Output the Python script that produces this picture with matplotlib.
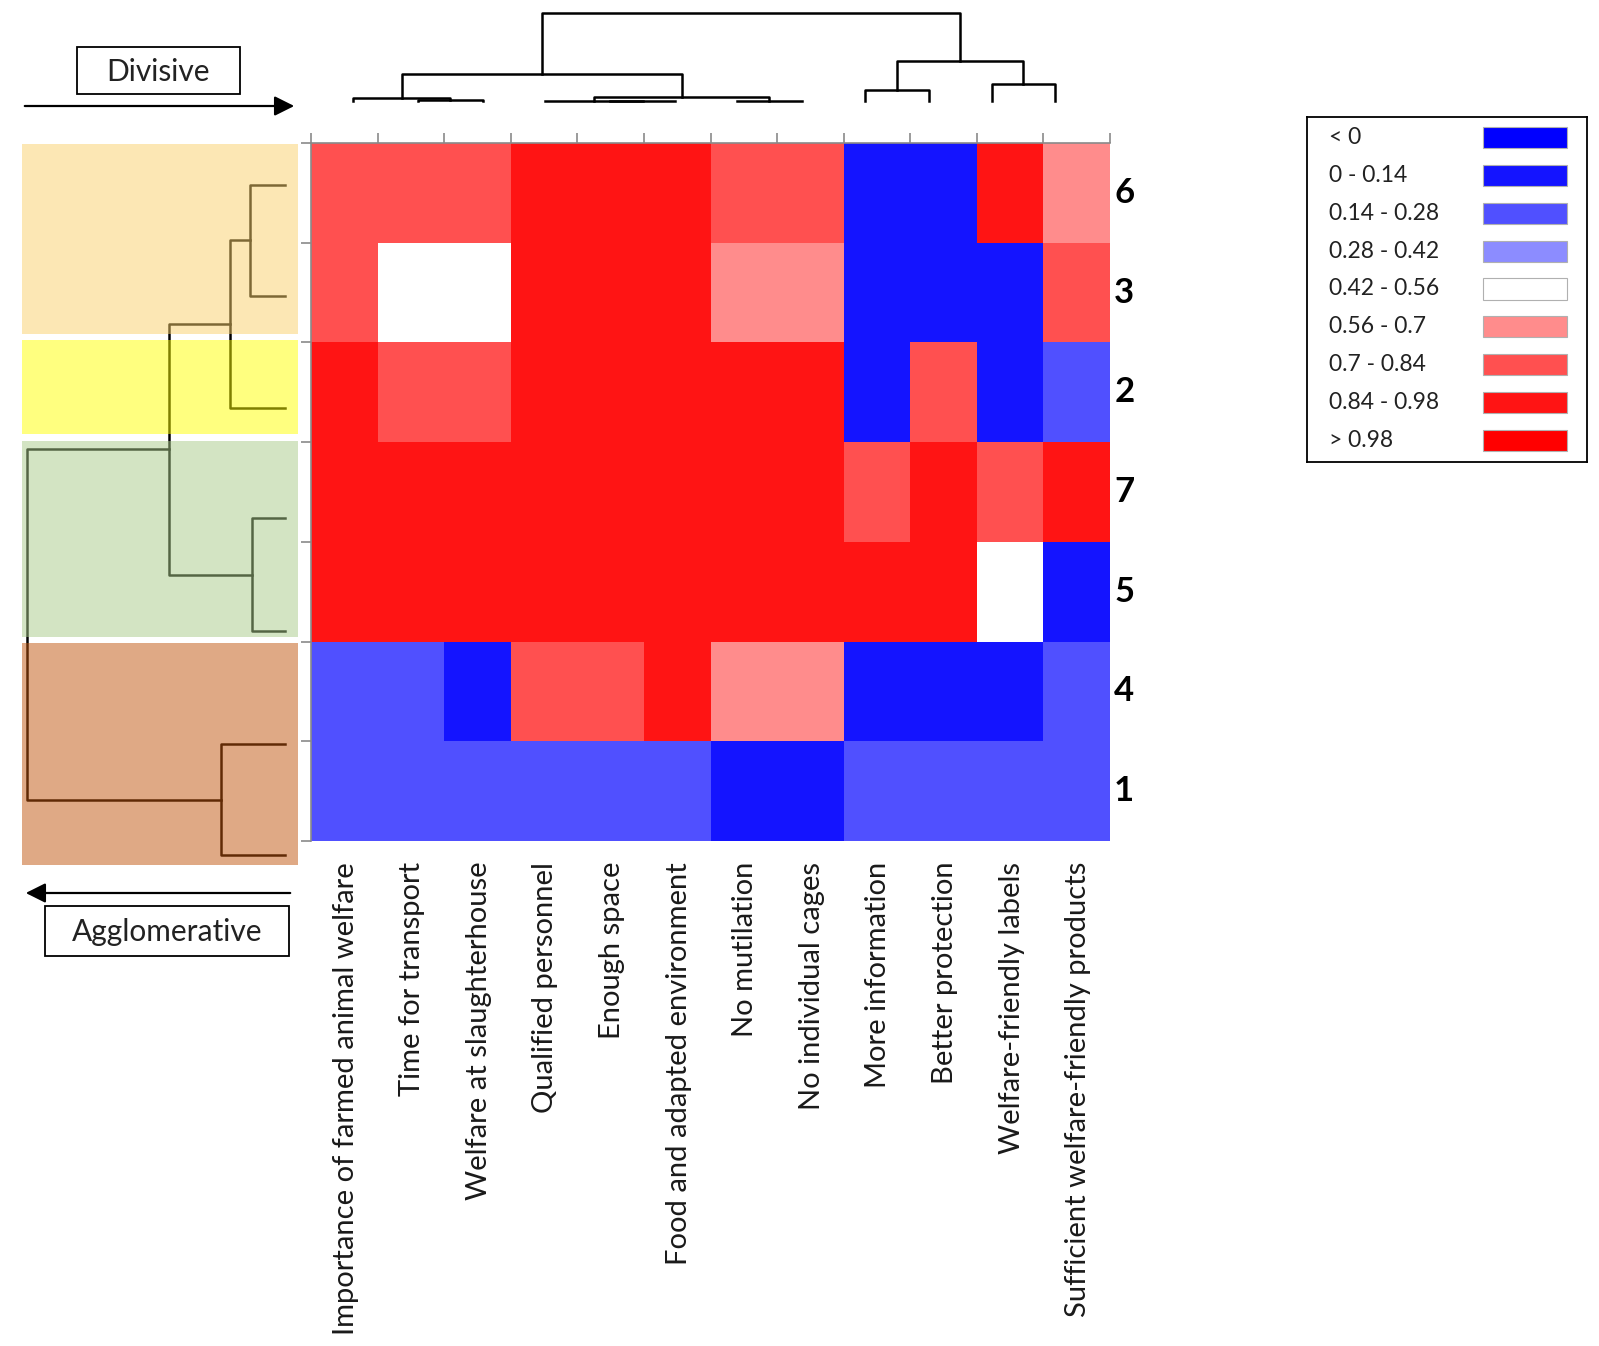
import numpy as np
import matplotlib
matplotlib.use('Agg')
import matplotlib.pyplot as plt
from matplotlib.colors import ListedColormap, BoundaryNorm
from matplotlib.patches import Rectangle, FancyArrowPatch

plt.rcParams['font.family'] = ['Lato', 'DejaVu Sans']

W, H = 1599, 1346

# --- data
statements = ['Importance of farmed animal welfare', 'Time for transport', 'Welfare at slaughterhouse',
              'Qualified personnel', 'Enough space', 'Food and adapted environment', 'No mutilation',
              'No individual cages', 'More information', 'Better protection', 'Welfare-friendly labels',
              'Sufficient welfare-friendly products']
clusters = ['6', '3', '2', '7', '5', '4', '1']

# one representative value per cell (class of the legend)
values = np.array([
    [0.77, 0.77, 0.77, 0.91, 0.91, 0.91, 0.77, 0.77, 0.07, 0.07, 0.91, 0.63],
    [0.77, 0.49, 0.49, 0.91, 0.91, 0.91, 0.63, 0.63, 0.07, 0.07, 0.07, 0.77],
    [0.91, 0.77, 0.77, 0.91, 0.91, 0.91, 0.91, 0.91, 0.07, 0.77, 0.07, 0.21],
    [0.91, 0.91, 0.91, 0.91, 0.91, 0.91, 0.91, 0.91, 0.77, 0.91, 0.77, 0.91],
    [0.91, 0.91, 0.91, 0.91, 0.91, 0.91, 0.91, 0.91, 0.91, 0.91, 0.49, 0.07],
    [0.21, 0.21, 0.07, 0.77, 0.77, 0.91, 0.63, 0.63, 0.07, 0.07, 0.07, 0.21],
    [0.21, 0.21, 0.21, 0.21, 0.21, 0.21, 0.07, 0.07, 0.21, 0.21, 0.21, 0.21],
])

class_edges = [-1, 0, 0.14, 0.28, 0.42, 0.56, 0.7, 0.84, 0.98, 1.5]
class_labels = ['< 0', '0 - 0.14', '0.14 - 0.28', '0.28 - 0.42', '0.42 - 0.56',
                '0.56 - 0.7', '0.7 - 0.84', '0.84 - 0.98', '> 0.98']
class_colors = ['#0000FF', '#1414FF', '#5050FF', '#8C8CFF', '#FFFFFF',
                '#FF8C8C', '#FF5050', '#FF1414', '#FF0000']

# column dendrogram: leaf positions (column units), merges (node a, node b, height)
col_leaf_pos = [0.63, 1.61, 2.58, 3.51, 4.49, 5.47, 6.40, 7.37, 8.32, 9.28, 10.23, 11.17]
col_merges = [(1, 2, 0.8), (0, 12, 3), (4, 5, 0.1), (3, 14, 0.3), (6, 7, 0.3), (15, 16, 4.3),
              (13, 17, 27), (8, 9, 11), (10, 11, 17.4), (19, 20, 40), (18, 21, 88)]

# row dendrogram (clusters 6,3,2,7,5,4,1)
row_leaf_pos = [184.5, 295.5, 408.3, 518.3, 631.2, 744.4, 855.0]
row_merges = [(0, 1, 35), (7, 2, 55), (3, 4, 33), (8, 9, 116), (5, 6, 64), (10, 11, 258)]

# cluster groups shown as coloured bands
band_spans = [(144, 334), (340, 434), (441, 637), (643, 865)]
band_colors = ['#FBD16B', '#FFFF01', '#A9CB89', '#C1550D']


def fig_rect(x0, y0, x1, y1):
    return [x0 / W, 1 - y1 / H, (x1 - x0) / W, (y1 - y0) / H]


def draw_dendro(ax, leaf_pos, merges, vertical=True, **kw):
    pos = list(leaf_pos)
    hgt = [0.0] * len(leaf_pos)
    for a, b, h in merges:
        xs = [pos[a], pos[a], pos[b], pos[b]]
        ys = [hgt[a], h, h, hgt[b]]
        if vertical:
            ax.plot(xs, ys, **kw)
        else:
            ax.plot(ys, xs, **kw)
        pos.append((pos[a] + pos[b]) / 2)
        hgt.append(h)


fig = plt.figure(figsize=(W / 100, H / 100), dpi=100)

# --- heatmap
ax = fig.add_axes(fig_rect(311, 143, 1110, 841))
cmap = ListedColormap(class_colors)
norm = BoundaryNorm(class_edges, cmap.N)
ax.pcolormesh(np.arange(13), np.arange(8), values, cmap=cmap, norm=norm)
ax.set_xlim(0, 12)
ax.set_ylim(7, 0)
ax.xaxis.tick_top()
ax.set_xticks(np.arange(13))
ax.set_yticks(np.arange(8))
ax.set_xticklabels([])
ax.set_yticklabels([])
ax.tick_params(length=7, width=1.2, color='#8a8a8a', direction='out')
for s in ['right', 'bottom']:
    ax.spines[s].set_visible(False)
for s in ['top', 'left']:
    ax.spines[s].set_color('#8a8a8a')
    ax.spines[s].set_linewidth(1.2)

for j, lab in enumerate(statements):
    ax.annotate(lab, xy=(j + 0.5, 7), xytext=(1, -15), textcoords='offset points',
                rotation=90, ha='center', va='top', fontsize=21, color='#1a1a1a')
for i, cl in enumerate(clusters):
    ax.annotate(cl, xy=(12, i + 0.5), xytext=(3, 0), textcoords='offset points',
                ha='left', va='center', fontsize=25, fontweight='bold')

# --- top dendrogram
axt = fig.add_axes(fig_rect(311, 0, 1110, 101))
draw_dendro(axt, col_leaf_pos, col_merges, vertical=True, color='black', lw=1.8, clip_on=False)
axt.set_xlim(0, 12)
axt.set_ylim(0, 101)
axt.axis('off')

# --- left dendrogram with bands
axl = fig.add_axes(fig_rect(0, 140, 300, 870))
draw_dendro(axl, row_leaf_pos, row_merges, vertical=False, color='black', lw=1.8, zorder=1)
for (y0, y1), c in zip(band_spans, band_colors):
    axl.add_patch(Rectangle((-13, y0), 276.3, y1 - y0, facecolor=c, alpha=0.5, lw=0, zorder=2))
axl.set_xlim(285, -15)
axl.set_ylim(870, 140)
axl.axis('off')

# --- legend
axg = fig.add_axes(fig_rect(1307, 117, 1587, 462))
axg.set_xlim(0, 1)
axg.set_ylim(8.58, -0.55)
for i, (lab, c) in enumerate(zip(class_labels, class_colors)):
    axg.add_patch(Rectangle((0.629, i - 0.28), 0.30, 0.56, facecolor=c, edgecolor='#b0b0b0', lw=0.8))
    axg.text(0.08, i, lab, ha='left', va='center', fontsize=16.5, color='#222222')
axg.set_xticks([])
axg.set_yticks([])
for s in axg.spines.values():
    s.set_linewidth(1.3)

# --- divisive / agglomerative annotations
axo = fig.add_axes([0, 0, 1, 1], zorder=-1)
axo.set_xlim(0, W)
axo.set_ylim(H, 0)
axo.axis('off')
axo.add_patch(Rectangle((76.5, 47), 163.5, 47, fill=False, lw=1.3, edgecolor='black'))
axo.text(158, 72, 'Divisive', ha='center', va='center', fontsize=21.5, color='#222222')
axo.add_patch(Rectangle((45, 906), 244, 50, fill=False, lw=1.3, edgecolor='black'))
axo.text(167, 932, 'Agglomerative', ha='center', va='center', fontsize=21.5, color='#222222')
axo.add_patch(FancyArrowPatch((22, 106), (297, 106), arrowstyle='-|>', mutation_scale=30,
                              lw=1.6, color='black'))
axo.add_patch(FancyArrowPatch((293, 893), (23, 893), arrowstyle='-|>', mutation_scale=30,
                              lw=1.6, color='black'))

fig.savefig('out.png', dpi=100)
